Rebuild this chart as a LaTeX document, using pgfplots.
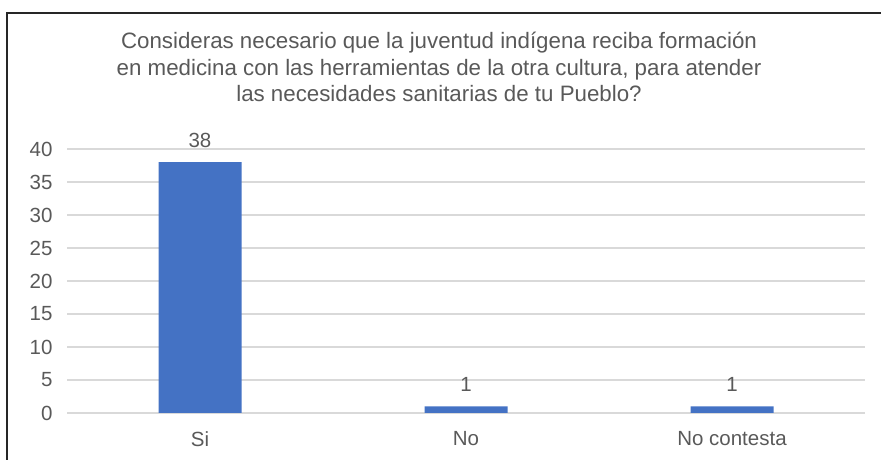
\documentclass[border=0pt]{standalone}
\usepackage{pgfplots}
\pgfplotsset{compat=1.18}
\usepackage{fontspec}
\setmainfont{Liberation Sans}
\definecolor{txt}{HTML}{595959}
\definecolor{grd}{HTML}{D9D9D9}
\definecolor{bar}{HTML}{4472C4}
\begin{document}
\begin{tikzpicture}
\path[use as bounding box] (0,0) rectangle (881pt,460pt);
\draw[line width=1.8pt, black!85] (7pt,0) -- (7pt,447pt) -- (881pt,447pt);
\node[align=center, text=txt, font=\fontsize{22.3}{26.5}\selectfont] at (439pt,393pt)
 {Consideras necesario que la juventud indígena reciba formación\\en medicina con las herramientas de la otra cultura, para atender\\las necesidades sanitarias de tu Pueblo?};
\begin{axis}[
  at={(67pt,47pt)}, anchor=south west,
  scale only axis, width=798pt, height=264pt,
  xmin=-0.5, xmax=2.5, ymin=0, ymax=40,
  ytick={0,5,...,40},
  xtick={0,1,2}, xticklabels={Si,No,No contesta},
  axis line style={draw=none},
  major tick length=0pt,
  ymajorgrids, grid style={grd, line width=1.3pt},
  /pgf/number format/assume math mode=true,
  tick label style={text=txt, font=\fontsize{20.5}{24}\selectfont},
  yticklabel style={xshift=-11pt},
  xticklabel style={yshift=-15pt},
  nodes near coords,
  nodes near coords style={text=txt, font=\fontsize{20.5}{24}\selectfont, anchor=south, yshift=11pt},
  clip=false,
]
\addplot[ybar, bar width=83pt, fill=bar, draw=none] coordinates {(0,38) (1,1) (2,1)};
\end{axis}
\end{tikzpicture}
\end{document}
